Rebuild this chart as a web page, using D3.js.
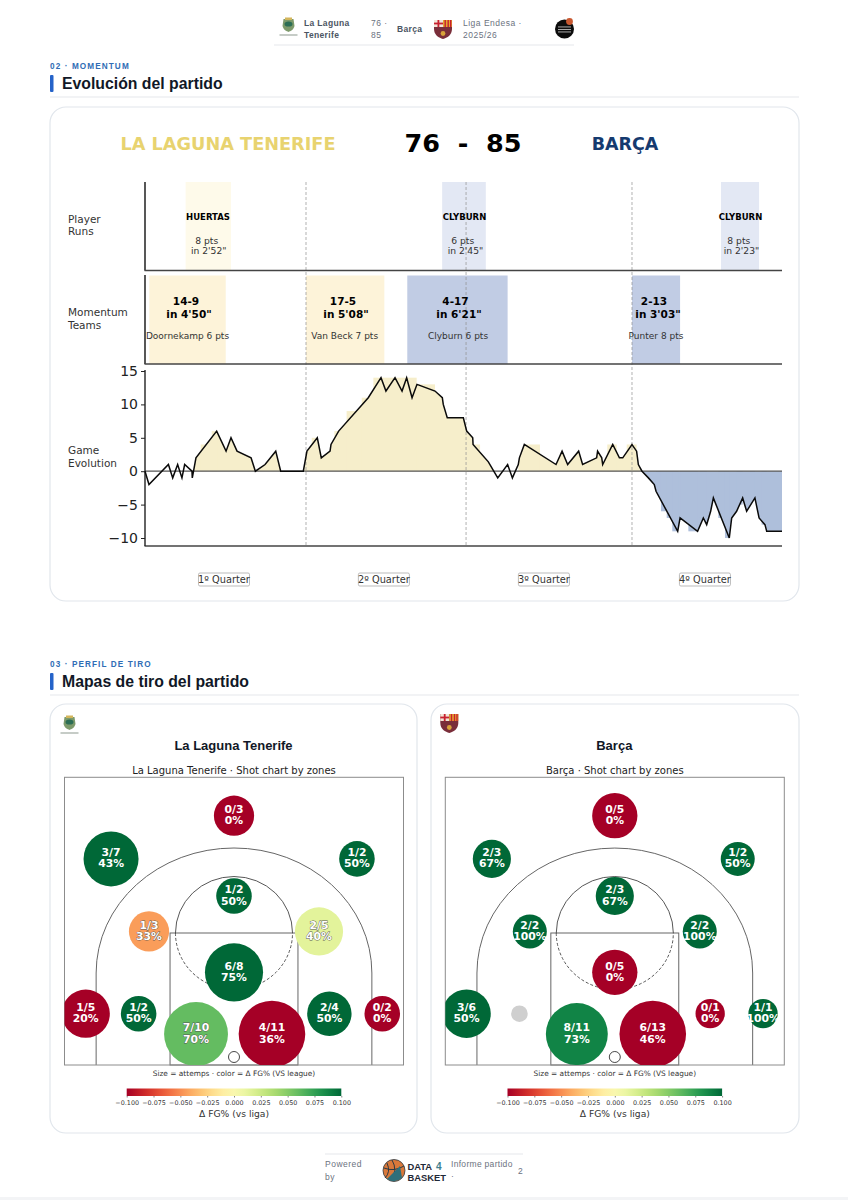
<!DOCTYPE html>
<html>
<head>
<meta charset="utf-8">
<script src="https://cdn.jsdelivr.net/npm/d3@7"></script>
<style>
  html, body { margin: 0; padding: 0; background: #fff; overflow: hidden; }
  svg { display: block; }
  .sans { font-family: "Liberation Sans", Arial, sans-serif; }
  .dv { font-family: "DejaVu Sans", sans-serif; }
</style>
</head>
<body>
<div id="chart"></div>
<script>
// --- Game evolution (minute, lead) ---
const gameMinutes = [0,0.25,1.47,1.74,2.05,2.32,2.49,2.95,2.97,3.2,4.5,5.09,5.4,5.78,6.66,6.93,7.54,8.21,8.52,9.94,10.17,10.82,11.07,11.62,11.68,12.16,14.02,14.82,15.13,15.7,16.14,16.43,16.77,17.08,18.21,18.67,18.73,18.98,19.99,20.2,20.58,20.6,21.56,22.15,22.77,23.07,23.44,23.51,23.82,25.81,26.19,26.54,27.23,27.48,28.36,28.42,28.68,28.74,29.37,29.79,30,30.58,30.87,30.98,31.21,31.61,31.98,32.09,33.45,33.6,34.7,35.06,35.27,35.52,35.69,36.69,36.84,37.15,37.53,37.78,38.3,38.56,38.93,39.04,40];
const gameLead = [0,-2,1,-1,1,-1,1,0,-1,2,6,3,5,3,2,0,1,3,0,0,3,5,2,3,4,6,11,14,12,14,12,14,11,13,12,11,10,8,8,6,5,4,1.4,-1,1,-1,1,2,4,1,3,1,3,1,2,3,2,1,4,2,2,4,3,1,0,-1,-2,-3,-9,-7,-9,-7,-8,-6,-4,-10,-7,-6,-4,-6,-4,-7,-8,-9,-9];

// filled stretches of the area under the line [from, to]
const fillFrom = [3.05, 9.94, 23.44, 31.21];
const fillTo = [8.52, 21.9, 31.21, 40];
const fillTeam = ["home", "home", "home", "away"];

// little square steps of the fill that stick out past the line
const stepFrom = [3.5,4.19,10.47,11.89,12.66,13.61,14.34,17.06,20.2,23.82,29.03,30.25,32.09,32.4,32.76,33.11,33.6,34.12,34.85,36,36.42,37.15,37.99,38.72];
const stepTo = [3.91,4.54,10.82,12.66,13.61,14.34,17.06,18.21,21.04,24.8,29.62,30.87,32.4,32.76,33.11,33.49,34.12,34.7,35.27,36.42,36.69,37.53,38.3,39.04];
const stepLead = [4,6,5,6,9,11,14,13,4,4,4,4,-3,-6,-7,-9,-7,-9,-7,-7,-10,-5,-4,-8];

const quarterEnds = [10.11, 20.16, 30.58];
const quarterMids = [4.96, 15, 25.05, 35.16];
const quarterNames = ["1º Quarter", "2º Quarter", "3º Quarter", "4º Quarter"];
const leadTicks = [15, 10, 5, 0, -5, -10];

// --- Player runs ---
const runFrom = [2.55, 18.66, 36.17];
const runTo = [5.4, 21.4, 38.56];
const runTeam = ["home", "away", "away"];
const runPlayer = ["HUERTAS", "CLYBURN", "CLYBURN"];
const runPts = ["8 pts", "6 pts", "8 pts"];
const runTime = ["in 2'52\"", "in 2'45\"", "in 2'23\""];

// --- Team momentum ---
const momFrom = [0.27, 10.11, 16.47, 30.58];
const momTo = [5.07, 15.03, 22.77, 33.6];
const momTeam = ["home", "home", "away", "away"];
const momScore = ["14-9", "17-5", "4-17", "2-13"];
const momTime = ["in 4'50\"", "in 5'08\"", "in 6'21\"", "in 3'03\""];
const momTop = ["Doornekamp 6 pts", "Van Beck 7 pts", "Clyburn 6 pts", "Punter 8 pts"];

// --- Shot zones (metres from the rim axis / baseline) ---
const zoneX = [0, -5.44, 5.44, 0, -3.76, 3.76, 0, -6.56, -4.22, -1.68, 1.68, 4.22, 6.56];
const zoneY = [11.03, 9.12, 9.12, 7.48, 5.91, 5.91, 4.1, 2.27, 2.27, 1.37, 1.37, 2.27, 2.27];

const homeMade = [0, 3, 1, 1, 1, 2, 6, 1, 1, 7, 4, 2, 0];
const homeAtt = [3, 7, 2, 2, 3, 5, 8, 5, 2, 10, 11, 4, 2];
const homePct = [0, 43, 50, 50, 33, 40, 75, 20, 50, 70, 36, 50, 0];
const homeDelta = [-0.1, 0.1, 0.1, 0.1, -0.045, 0.014, 0.1, -0.1, 0.1, 0.06, -0.1, 0.1, -0.1];

const awayMade = [0, 2, 1, 2, 2, 2, 0, 3, 0, 8, 6, 0, 1];
const awayAtt = [5, 3, 2, 3, 2, 2, 5, 6, 0, 11, 13, 1, 1];
const awayPct = [0, 67, 50, 67, 100, 100, 0, 50, 0, 73, 46, 0, 100];
const awayDelta = [-0.1, 0.1, 0.1, 0.1, 0.1, 0.1, -0.1, 0.1, 0, 0.088, -0.1, -0.1, 0.1];

const cbarTicks = [-0.1, -0.075, -0.05, -0.025, 0, 0.025, 0.05, 0.075, 0.1];

const teamFill = { home: "#f6eecb", away: "#aebfdb" };
const momFill = { home: "#fdf3d9", away: "#c1cce4" };
const runFill = { home: "#fefaea", away: "#e3e8f4" };

const svg = d3.select("#chart").append("svg").attr("width", 848).attr("height", 1200);
const defs = svg.append("defs");

function label(parent, txt, x, y, size, opts = {}) {
    return parent.append("text")
        .attr("class", opts.cls || "sans")
        .attr("x", x).attr("y", y)
        .attr("font-size", size)
        .attr("font-weight", opts.weight || "normal")
        .attr("text-anchor", opts.anchor || "start")
        .attr("letter-spacing", opts.spacing || null)
        .attr("fill", opts.fill || "#111")
        .text(txt);
}

// --- small logos ---
function barcaCrest(g, cx, cy) {
    const c = g.append("g").attr("transform", `translate(${cx},${cy})`);
    c.append("path").attr("d", "M-9,-9 L9,-9 L9,0 C9,6 4,9 0,10 C-4,9 -9,6 -9,0 Z").attr("fill", "#7a2e3a");
    c.append("rect").attr("x", -9).attr("y", -9).attr("width", 9).attr("height", 7).attr("fill", "#f1e6d8");
    c.append("rect").attr("x", -5.5).attr("y", -9).attr("width", 1.8).attr("height", 7).attr("fill", "#c8202f");
    c.append("rect").attr("x", -9).attr("y", -6.4).attr("width", 9).attr("height", 1.8).attr("fill", "#c8202f");
    c.append("rect").attr("x", 0).attr("y", -9).attr("width", 9).attr("height", 7).attr("fill", "#e3a72f");
    [1.5, 4.5, 7].forEach(x => c.append("rect").attr("x", x).attr("y", -9).attr("width", 1.4).attr("height", 7).attr("fill", "#c8202f"));
    c.append("circle").attr("cy", 4.5).attr("r", 2.4).attr("fill", "#d9a23a");
}

function lagunaCrest(g, cx, cy) {
    const c = g.append("g").attr("transform", `translate(${cx},${cy})`);
    c.append("path").attr("d", "M-5,-6 L5,-6 L6,1 C5,5 2,6 0,7 C-2,6 -5,5 -6,1 Z").attr("fill", "#7d9a6b");
    c.append("ellipse").attr("cy", -1).attr("rx", 4).attr("ry", 2.6).attr("fill", "#2c6e55");
    c.append("rect").attr("x", -3.5).attr("y", -7.5).attr("width", 7).attr("height", 2.5).attr("fill", "#d3b65c");
    c.append("rect").attr("x", -9).attr("y", 9.5).attr("width", 18).attr("height", 1).attr("fill", "#8d9a90");
}

// --- header ---
const header = svg.append("g");
lagunaCrest(header, 288.5, 25);
label(header, "La Laguna", 304, 26, 8.5, { weight: "bold", fill: "#4b5563", spacing: 0.35 });
label(header, "Tenerife", 304, 38, 8.5, { weight: "bold", fill: "#4b5563", spacing: 0.35 });
label(header, "76 ·", 371, 26, 8.5, { fill: "#6b7280", spacing: 0.5 });
label(header, "85", 371, 38, 8.5, { fill: "#6b7280", spacing: 0.5 });
label(header, "Barça", 397, 32, 8.5, { weight: "bold", fill: "#4b5563", spacing: 0.35 });
barcaCrest(header, 443, 29);
label(header, "Liga Endesa ·", 463, 26, 8.5, { fill: "#6b7280", spacing: 0.5 });
label(header, "2025/26", 463, 38, 8.5, { fill: "#6b7280", spacing: 0.5 });
header.append("circle").attr("cx", 564.5).attr("cy", 29).attr("r", 9.5).attr("fill", "#0c0c0c");
header.append("circle").attr("cx", 569.5).attr("cy", 21.5).attr("r", 3.4).attr("fill", "#c8572f");
[26.5, 29, 31.5].forEach(y => header.append("rect").attr("x", 558).attr("y", y).attr("width", 13).attr("height", 0.9).attr("fill", "#bbb"));
header.append("line").attr("x1", 274).attr("x2", 574).attr("y1", 45).attr("y2", 45).attr("stroke", "#e5e7eb");

// --- section headings ---
function section(code, title, y) {
    label(svg, code, 50, y, 8.2, { weight: "bold", fill: "#2f6db5", spacing: 1.1 });
    svg.append("rect").attr("x", 50).attr("y", y + 6).attr("width", 3.5).attr("height", 17).attr("rx", 1).attr("fill", "#2563c9");
    label(svg, title, 62, y + 20, 15.8, { weight: "bold", fill: "#111827" });
    svg.append("line").attr("x1", 50).attr("x2", 799).attr("y1", y + 28).attr("y2", y + 28).attr("stroke", "#e5e7eb");
}
section("02 · MOMENTUM", "Evolución del partido", 69);
section("03 · PERFIL DE TIRO", "Mapas de tiro del partido", 667);

function card(x, y, w, h) {
    svg.append("rect").attr("x", x).attr("y", y).attr("width", w).attr("height", h).attr("rx", 16)
        .attr("fill", "#fff").attr("stroke", "#e1e6ec").attr("stroke-width", 1.2);
}
card(50, 107, 749, 494);
card(50, 704, 367, 429);
card(431, 704, 368, 429);

// --- momentum chart ---
const x = d3.scaleLinear().domain([0, 40]).range([145, 782]);
const y = d3.scaleLinear().domain([15, -10]).range([371, 538]);
const chart = svg.append("g");

label(chart, "LA LAGUNA TENERIFE", 228, 150, 17.7, { cls: "dv", weight: "bold", anchor: "middle", fill: "#e8d36f" });
label(chart, "76  -  85", 463, 152, 25.5, { cls: "dv", weight: "bold", anchor: "middle", fill: "#000" }).attr("xml:space", "preserve").style("white-space", "pre");
label(chart, "BARÇA", 625, 150, 17.5, { cls: "dv", weight: "bold", anchor: "middle", fill: "#153a6f" });

// side captions
[["Player", 223], ["Runs", 235], ["Momentum", 316], ["Teams", 329], ["Game", 454], ["Evolution", 467]].forEach(d =>
    label(chart, d[0], 68, d[1], 10.5, { cls: "dv", fill: "#333" }));

// player run bands
chart.append("g").selectAll("rect").data(runFrom).join("rect")
    .attr("x", d => x(d))
    .attr("width", (d, i) => x(runTo[i]) - x(d))
    .attr("y", 182).attr("height", 88)
    .attr("fill", (d, i) => runFill[runTeam[i]]);

// team momentum bands
chart.append("g").selectAll("rect").data(momFrom).join("rect")
    .attr("x", d => x(d))
    .attr("width", (d, i) => x(momTo[i]) - x(d))
    .attr("y", 275.5).attr("height", 88.5)
    .attr("fill", (d, i) => momFill[momTeam[i]]);

// area under the line
const area = d3.area()
    .x(d => x(d[0]))
    .y0(y(0))
    .y1(d => y(d[1]));
const series = gameMinutes.map((m, i) => [m, gameLead[i]]);
fillFrom.forEach((from, i) => {
    defs.append("clipPath").attr("id", "fill" + i).append("rect")
        .attr("x", x(from)).attr("width", x(fillTo[i]) - x(from))
        .attr("y", 360).attr("height", 190);
    chart.append("path").datum(series)
        .attr("d", area)
        .attr("fill", teamFill[fillTeam[i]])
        .attr("clip-path", `url(#fill${i})`);
});
chart.append("g").selectAll("rect").data(stepFrom).join("rect")
    .attr("x", d => x(d))
    .attr("width", (d, i) => x(stepTo[i]) - x(d))
    .attr("y", (d, i) => Math.min(y(stepLead[i]), y(0)))
    .attr("height", (d, i) => Math.abs(y(stepLead[i]) - y(0)))
    .attr("fill", (d, i) => stepLead[i] > 0 ? teamFill.home : teamFill.away);

// quarter separators
chart.append("g").selectAll("line").data(quarterEnds).join("line")
    .attr("x1", d => x(d)).attr("x2", d => x(d))
    .attr("y1", 182).attr("y2", 546)
    .attr("stroke", "#8f8f8f").attr("stroke-width", 0.7).attr("stroke-dasharray", "3,2");

// band text
const runTextX = [208, 464.5, 740.5];
const runPtsX = [206.7, 462.7, 738.8];
const runTimeX = [208.7, 465.5, 741.5];
runFrom.forEach((from, i) => {
    label(chart, runPlayer[i], runTextX[i], 220, 8.5, { cls: "dv", weight: "bold", anchor: "middle", fill: "#000" });
    label(chart, runPts[i], runPtsX[i], 244, 9.2, { cls: "dv", anchor: "middle", fill: "#333" });
    label(chart, runTime[i], runTimeX[i], 254, 9.2, { cls: "dv", anchor: "middle", fill: "#333" });
});
const momScoreX = [186, 343, 455.5, 654];
const momTimeX = [189, 346, 459, 658];
const momTopX = [187.5, 344.7, 458, 656];
momFrom.forEach((from, i) => {
    label(chart, momScore[i], momScoreX[i], 305, 10.5, { cls: "dv", weight: "bold", anchor: "middle", fill: "#000" });
    label(chart, momTime[i], momTimeX[i], 318, 10.5, { cls: "dv", weight: "bold", anchor: "middle", fill: "#000" });
    label(chart, momTop[i], momTopX[i], 339, 9, { cls: "dv", anchor: "middle", fill: "#333" });
});

// spines
chart.append("line").attr("x1", 145).attr("x2", 145).attr("y1", 182).attr("y2", 270.5).attr("stroke", "#111").attr("stroke-width", 1.4);
chart.append("line").attr("x1", 145).attr("x2", 145).attr("y1", 275).attr("y2", 364).attr("stroke", "#111").attr("stroke-width", 1.4);
[270.5, 364, 546].forEach(py => chart.append("line").attr("x1", 144.5).attr("x2", 782).attr("y1", py).attr("y2", py).attr("stroke", "#444").attr("stroke-width", 1.4));
chart.append("line").attr("x1", 145).attr("x2", 782).attr("y1", y(0)).attr("y2", y(0)).attr("stroke", "#555").attr("stroke-width", 1.3);

const yAxis = chart.append("g").attr("class", "dv").attr("transform", "translate(145,0)")
    .call(d3.axisLeft(y).tickValues(leadTicks).tickFormat(d => d < 0 ? "−" + (-d) : d).tickSize(4).tickPadding(3));
yAxis.select(".domain").attr("d", "M0,370V546").attr("stroke", "#222").attr("stroke-width", 1.4);
yAxis.selectAll("text").attr("font-size", 14).attr("font-family", "DejaVu Sans").attr("fill", "#222");
yAxis.selectAll("line").attr("stroke", "#222");

// lead line
chart.append("path").datum(series)
    .attr("d", d3.line().x(d => x(d[0])).y(d => y(d[1])))
    .attr("fill", "none").attr("stroke", "#0a0a0a").attr("stroke-width", 1.5).attr("stroke-linejoin", "miter");

// quarter labels
quarterMids.forEach((m, i) => {
    const cx = x(m);
    chart.append("rect").attr("x", cx - 25.5).attr("y", 573).attr("width", 51).attr("height", 13).attr("rx", 1.5)
        .attr("fill", "#fff").attr("stroke", "#aaa").attr("stroke-width", 0.8);
    label(chart, quarterNames[i], cx, 583, 9.8, { cls: "dv", anchor: "middle", fill: "#333" });
});

// --- shot charts ---
const courtHalf = 7.5, courtDepth = 12.73;
function shotChart(id, left, team, made, att, pct, delta, crest) {
    const right = left + 339;
    const cx = d3.scaleLinear().domain([-courtHalf, courtHalf]).range([left, right]);
    const cy = d3.scaleLinear().domain([0, courtDepth]).range([1065, 777.3]);
    const midX = cx(0);
    const g = svg.append("g");

    crest(g, left + (id === "home" ? 5 : 4), 723);
    label(g, team, midX - 0.5, 750, 13, { weight: "bold", anchor: "middle", fill: "#111827" });
    label(g, team + " · Shot chart by zones", midX, 774, 10, { cls: "dv", anchor: "middle", fill: "#222" });

    // court lines
    const line = "#666";
    const rx3 = cx(6.1) - midX, ry3 = 125, y3 = 973;
    g.append("path")
        .attr("d", `M${midX - rx3},1065 V${y3} A${rx3},${ry3} 0 0 1 ${midX + rx3},${y3} V1065`)
        .attr("fill", "none").attr("stroke", line).attr("stroke-width", 1);
    g.append("rect").attr("x", cx(-2.83)).attr("width", cx(2.83) - cx(-2.83))
        .attr("y", 933).attr("height", 132)
        .attr("fill", "none").attr("stroke", line).attr("stroke-width", 1);
    const rxF = cx(2.59) - midX, ryF = 56.5;
    g.append("path").attr("d", `M${midX - rxF},933 A${rxF},${ryF} 0 0 1 ${midX + rxF},933`)
        .attr("fill", "none").attr("stroke", "#444").attr("stroke-width", 0.9);
    g.append("path").attr("d", `M${midX - rxF},933 A${rxF},${ryF} 0 0 0 ${midX + rxF},933`)
        .attr("fill", "none").attr("stroke", "#444").attr("stroke-width", 0.9).attr("stroke-dasharray", "3,2");
    g.append("rect").attr("x", left).attr("y", 777.3).attr("width", 339).attr("height", 287.7)
        .attr("fill", "none").attr("stroke", "#8c8c8c").attr("stroke-width", 1);

    // bubbles, clipped to the court
    defs.append("clipPath").attr("id", "court-" + id).append("rect")
        .attr("x", left).attr("y", 777.3).attr("width", 339).attr("height", 287.7);
    const area = d3.scaleLinear().domain([0, d3.max(att)]).range([140, 1109]);
    const color = d3.scaleSequential(d3.interpolateRdYlGn).domain([-0.1, 0.1]);
    const radius = a => a ? Math.sqrt(area(a)) : 8.3;

    const bubbles = g.append("g").attr("clip-path", `url(#court-${id})`);
    bubbles.selectAll("circle").data(zoneX).join("circle")
        .attr("cx", d => cx(d))
        .attr("cy", (d, i) => cy(zoneY[i]))
        .attr("r", (d, i) => radius(att[i]))
        .attr("fill", (d, i) => att[i] ? color(delta[i]) : "#cfcfcf");

    g.append("circle").attr("cx", midX).attr("cy", 1057).attr("r", 5.5)
        .attr("fill", "none").attr("stroke", "#333").attr("stroke-width", 0.9);

    zoneX.forEach((zx, i) => {
        if (!att[i]) return;
        const light = Math.abs(delta[i]) < 0.07;
        [[made[i] + "/" + att[i], -2.6], [pct[i] + "%", 8.6]].forEach(t => {
            label(g, t[0], cx(zx), cy(zoneY[i]) + t[1], 10.8, { cls: "dv", weight: "bold", anchor: "middle", fill: "#fff" })
                .attr("stroke", light ? "#555" : "none").attr("stroke-width", light ? 0.8 : 0)
                .attr("paint-order", "stroke");
        });
    });

    label(g, "Size = attemps · color = Δ FG% (VS league)", midX, 1076, 7.4, { cls: "dv", anchor: "middle", fill: "#333" });

    // colour bar
    const cb = d3.scaleLinear().domain([-0.1, 0.1]).range([midX - 107.3, midX + 107.3]);
    const grad = defs.append("linearGradient").attr("id", "cbar-" + id);
    d3.range(0, 1.001, 0.05).forEach(t => grad.append("stop").attr("offset", t).attr("stop-color", d3.interpolateRdYlGn(t)));
    g.append("rect").attr("x", cb(-0.1)).attr("y", 1088.5).attr("width", cb(0.1) - cb(-0.1)).attr("height", 7.5)
        .attr("fill", `url(#cbar-${id})`);
    const axis = g.append("g").attr("transform", "translate(0,1096)")
        .call(d3.axisBottom(cb).tickValues(cbarTicks).tickFormat(d => d3.format(".3f")(d).replace("-", "−")).tickSize(1.5).tickPadding(2.5));
    axis.select(".domain").remove();
    axis.selectAll("line").attr("stroke", "#333").attr("stroke-width", 0.6);
    axis.selectAll("text").attr("font-size", 6.4).attr("font-family", "DejaVu Sans").attr("fill", "#333");
    label(g, "Δ FG% (vs liga)", midX, 1116.5, 9.2, { cls: "dv", anchor: "middle", fill: "#333" });
}

shotChart("home", 64.5, "La Laguna Tenerife", homeMade, homeAtt, homePct, homeDelta, lagunaCrest);
shotChart("away", 445.3, "Barça", awayMade, awayAtt, awayPct, awayDelta, barcaCrest);

// --- footer ---
const foot = svg.append("g");
foot.append("line").attr("x1", 325).attr("x2", 523).attr("y1", 1154).attr("y2", 1154).attr("stroke", "#e5e7eb");
label(foot, "Powered", 325, 1167, 8.5, { fill: "#6b7280", spacing: 0.5 });
label(foot, "by", 325, 1180, 8.5, { fill: "#6b7280", spacing: 0.5 });
foot.append("circle").attr("cx", 394).attr("cy", 1170.5).attr("r", 11).attr("fill", "#d9783a").attr("stroke", "#2b3a44").attr("stroke-width", 0.8);
foot.append("path").attr("d", "M384,1168 Q394,1172 404,1166 M392,1160 Q398,1170 391,1181 M387,1163 Q391,1172 385,1178").attr("fill", "none").attr("stroke", "#2b3a44").attr("stroke-width", 1);
foot.append("path").attr("d", "M387,1179 L400,1166 L402,1178 Q395,1184 387,1179 Z").attr("fill", "#2f6f7a");
label(foot, "DATA", 407.5, 1169.5, 9.4, { weight: "bold", fill: "#1f2937" });
label(foot, "4", 436, 1169.5, 10, { weight: "bold", fill: "#3f7f8f" });
label(foot, "BASKET", 407.5, 1180.5, 9.4, { weight: "bold", fill: "#1f2937" });
label(foot, "Informe partido", 451, 1167, 8.5, { fill: "#6b7280", spacing: 0.3 });
label(foot, "·", 451, 1179, 8.5, { fill: "#6b7280" });
label(foot, "2", 518, 1174, 8.5, { fill: "#6b7280" });
svg.append("rect").attr("x", 0).attr("y", 1197).attr("width", 848).attr("height", 3).attr("fill", "#f3f4f6");
</script>
</body>
</html>
